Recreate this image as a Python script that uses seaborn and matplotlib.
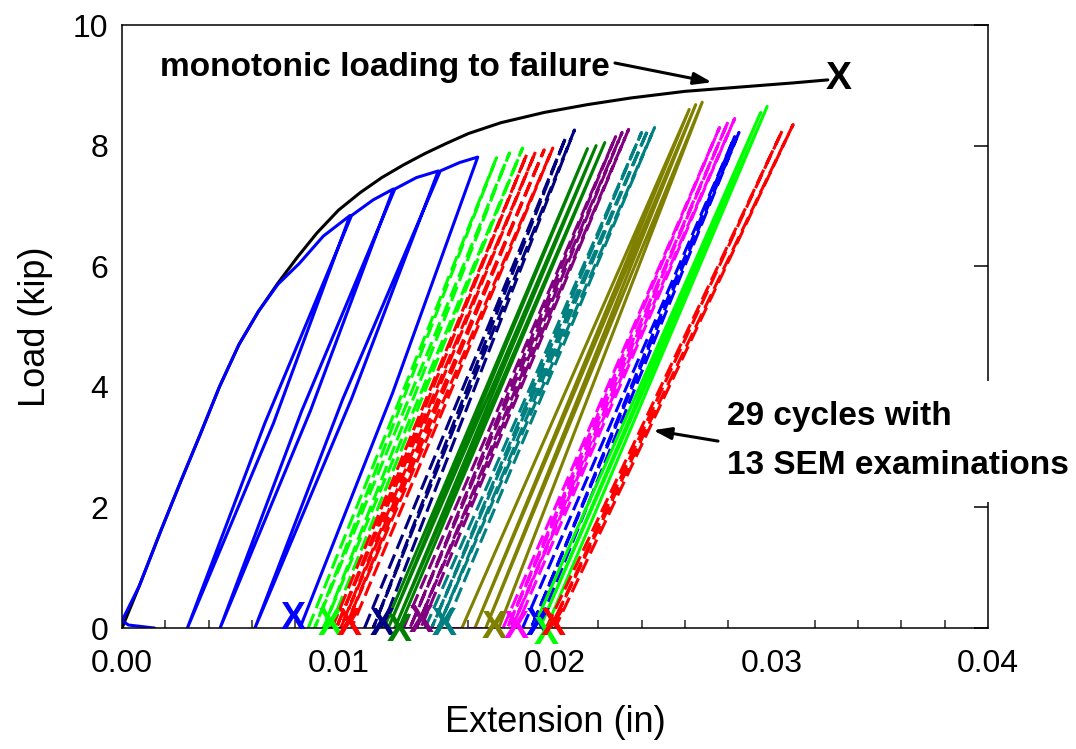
import numpy as np
import pandas as pd
import seaborn as sns
import matplotlib.pyplot as plt

# monotonic loading to failure
mono_x = [0.0, 0.0008, 0.0018, 0.0027, 0.0036, 0.0045, 0.0054, 0.0063, 0.0072,
          0.0081, 0.0090, 0.0100, 0.0110, 0.0120, 0.0130, 0.0140, 0.0150,
          0.0160, 0.0175, 0.0195, 0.0215, 0.0235, 0.0260, 0.0285, 0.0310, 0.0326]
mono_y = [0.0, 0.70, 1.62, 2.42, 3.20, 4.00, 4.70, 5.25, 5.72,
          6.15, 6.55, 6.93, 7.22, 7.47, 7.68, 7.87, 8.04,
          8.20, 8.38, 8.55, 8.68, 8.79, 8.90, 8.97, 9.04, 9.09]

# first cyclic set: follows the envelope, then unload / reload
blue_x = [0.0015, 0.0003, 0.0, 0.0008, 0.0018, 0.0027, 0.0036, 0.0045, 0.0054,
          0.0063, 0.0072, 0.0082, 0.0093, 0.01053, 0.0070, 0.00302, 0.0066,
          0.0106, 0.0116, 0.01253, 0.0087, 0.00453, 0.0083, 0.0126, 0.0136,
          0.01461, 0.0106, 0.00614, 0.0102, 0.0147, 0.0156, 0.01643, 0.0125,
          0.00822]
blue_y = [0.0, 0.05, 0.12, 0.70, 1.62, 2.42, 3.20, 4.00, 4.70,
          5.25, 5.70, 6.05, 6.50, 6.84, 3.40, 0.0, 3.40,
          6.84, 7.10, 7.28, 3.60, 0.0, 3.60, 7.28, 7.47,
          7.58, 3.80, 0.0, 3.80, 7.58, 7.72, 7.81, 3.90,
          0.0]

# later sets: residual extension at zero load, then peak of each cycle
lime1_bot = [0.0086, 0.0089, 0.0093, 0.0096]
lime1_px = [0.0173, 0.0179, 0.0185]
lime1_py = [7.80, 7.88, 7.96]

red1_bot = [0.0097, 0.0099, 0.0101, 0.0103, 0.0106]
red1_px = [0.0187, 0.0191, 0.0195, 0.0199]
red1_py = [7.86, 7.90, 7.93, 7.96]

navy_bot = [0.0112, 0.0116, 0.0120]
navy_px = [0.0205, 0.0209]
navy_py = [8.14, 8.26]

green_bot = [0.0121, 0.0123, 0.0126, 0.0128]
green_px = [0.0215, 0.0219, 0.0223]
green_py = [7.95, 8.00, 8.05]

purple_bot = [0.0130, 0.0133, 0.0136, 0.0138]
purple_px = [0.0228, 0.0231, 0.0234]
purple_py = [8.15, 8.22, 8.27]

teal_bot = [0.0140, 0.0143, 0.0146, 0.0149]
teal_px = [0.0240, 0.0243, 0.0246]
teal_py = [8.22, 8.27, 8.30]

olive_bot = [0.0157, 0.0163, 0.0168, 0.0174]
olive_px = [0.0262, 0.0265, 0.0268]
olive_py = [8.60, 8.68, 8.72]

magenta_bot = [0.0176, 0.0178, 0.0180, 0.0182]
magenta_px = [0.0276, 0.0280, 0.0283]
magenta_py = [8.30, 8.40, 8.45]

blue2_bot = [0.0185, 0.0189, 0.0192]
blue2_px = [0.0283, 0.0285]
blue2_py = [8.15, 8.22]

lime2_bot = [0.0190, 0.0193, 0.0196]
lime2_px = [0.0295, 0.0298]
lime2_py = [8.55, 8.65]

red2_bot = [0.0196, 0.0198, 0.0200]
red2_px = [0.0305, 0.0310]
red2_py = [8.25, 8.35]

# magenta trace lying on the zero-load line
mag_flat_x = [0.0130, 0.0190]
mag_flat_y = [0.0, 0.0]

# SEM examination marks
sem_x = [0.0079, 0.0096, 0.0105, 0.0120, 0.0128, 0.0138, 0.0149,
         0.0172, 0.0182, 0.0192, 0.0196, 0.0199]
sem_y = [0.15, 0.05, 0.05, 0.05, -0.05, 0.10, 0.05,
         0.0, 0.0, 0.05, -0.10, 0.05]
sem_colors = ['#0000FF', '#00FF00', '#FF0000', '#000080', '#008000', '#800080',
              '#008080', '#808000', '#FF00FF', '#0000FF', '#00FF00', '#FF0000']

fail_x, fail_y = 0.0331, 9.10


def cycle_path(bottoms, peak_x, peak_y):
    xs, ys = [bottoms[0]], [0.0]
    for b, px, py in zip(bottoms[1:], peak_x, peak_y):
        xs += [px, b]
        ys += [py, 0.0]
    return pd.DataFrame({'ext': xs, 'load': ys})


sns.set_theme(style='white')
plt.rcParams['font.family'] = ['Liberation Sans', 'DejaVu Sans']
plt.rcParams['text.color'] = 'black'
plt.rcParams['axes.labelcolor'] = 'black'

fig = plt.figure(figsize=(10.76, 7.49), dpi=100)
ax = fig.add_axes([0.1134, 0.1615, 0.8048, 0.8051])

lw = 2.2
dash = (0, (5, 2))

sns.lineplot(x=mono_x, y=mono_y, sort=False, estimator=None, color='black', lw=lw, ax=ax)
sns.lineplot(x=blue_x, y=blue_y, sort=False, estimator=None, color='#0000FF', lw=lw, ax=ax)

sets = [
    (lime1_bot, lime1_px, lime1_py, '#00FF00', dash),
    (red1_bot, red1_px, red1_py, '#FF0000', dash),
    (navy_bot, navy_px, navy_py, '#000080', dash),
    (green_bot, green_px, green_py, '#008000', '-'),
    (purple_bot, purple_px, purple_py, '#800080', dash),
    (teal_bot, teal_px, teal_py, '#008080', dash),
    (olive_bot, olive_px, olive_py, '#808000', '-'),
    (magenta_bot, magenta_px, magenta_py, '#FF00FF', dash),
    (blue2_bot, blue2_px, blue2_py, '#0000FF', dash),
    (lime2_bot, lime2_px, lime2_py, '#00FF00', '-'),
    (red2_bot, red2_px, red2_py, '#FF0000', dash),
]
for bot, px, py, c, ls in sets:
    df = cycle_path(bot, px, py)
    sns.lineplot(data=df, x='ext', y='load', sort=False, estimator=None,
                 color=c, lw=lw, linestyle=ls, ax=ax)

sns.lineplot(x=mag_flat_x, y=mag_flat_y, sort=False, estimator=None,
             color='#FF00FF', lw=lw, linestyle=dash, ax=ax)

for x, y, c in zip(sem_x, sem_y, sem_colors):
    ax.text(x, y, 'X', color=c, fontsize=27, fontweight='bold',
            ha='center', va='center', clip_on=False, zorder=6)
ax.text(fail_x, fail_y, 'X', color='black', fontsize=28, fontweight='bold',
        ha='center', va='center', zorder=6)

# annotations
ax.text(0.00175, 9.30, 'monotonic loading to failure', fontsize=24,
        fontweight='bold', ha='left', va='center', zorder=6)
ax.annotate('', xy=(0.02725, 9.05), xytext=(0.02277, 9.37),
            arrowprops=dict(arrowstyle='-|>,head_length=0.9,head_width=0.3',
                            color='black', lw=2.2, shrinkA=0, shrinkB=0))
ax.text(0.02794, 3.10, '29 cycles with\n13 SEM examinations', fontsize=24,
        fontweight='bold', ha='left', va='center', linespacing=1.73,
        clip_on=False, zorder=6,
        bbox=dict(facecolor='white', edgecolor='none', pad=15))
ax.annotate('', xy=(0.02453, 3.28), xytext=(0.02753, 3.10), zorder=7,
            arrowprops=dict(arrowstyle='-|>,head_length=0.9,head_width=0.3',
                            color='black', lw=2.2, shrinkA=0, shrinkB=0))

ax.set_xlim(0, 0.04)
ax.set_ylim(0, 10)
ax.set_xticks([0.0, 0.01, 0.02, 0.03, 0.04])
ax.set_xticklabels(['0.00', '0.01', '0.02', '0.03', '0.04'])
ax.set_xticks(np.arange(0, 0.0401, 0.002), minor=True)
ax.set_yticks([0, 2, 4, 6, 8, 10])
ax.tick_params(axis='both', which='major', direction='in', length=10, width=1.1,
               labelsize=23, pad=10, colors='black')
ax.tick_params(axis='x', which='major', pad=15)
ax.tick_params(axis='x', which='minor', direction='in', length=6, width=1.1, bottom=True)
ax.tick_params(axis='y', which='both', right=True)
for s in ax.spines.values():
    s.set_color('black')
    s.set_linewidth(1.1)

ax.set_xlabel('Extension (in)', fontsize=26, labelpad=19)
ax.set_ylabel('Load (kip)', fontsize=26, labelpad=14)

fig.savefig('out.png', dpi=100, facecolor='white')
